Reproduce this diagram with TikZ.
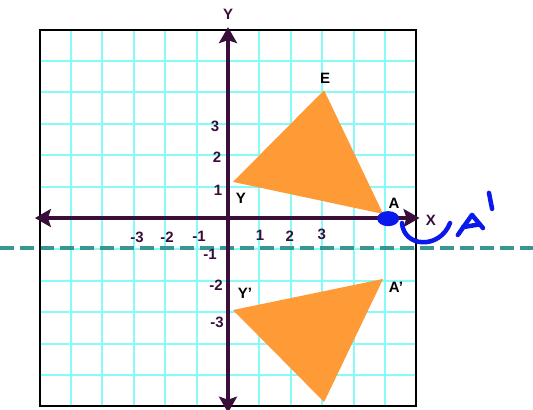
\documentclass[tikz,border=0pt]{standalone}
\usepackage{fontspec}
\setmainfont{Liberation Sans}
\usetikzlibrary{arrows.meta}
\definecolor{gridcyan}{RGB}{135,250,250}
\definecolor{axispurple}{RGB}{58,14,58}
\definecolor{shapeorange}{RGB}{255,155,55}
\definecolor{mirrorteal}{RGB}{58,150,146}
\definecolor{penblue}{RGB}{10,25,235}
\tikzset{
    tick/.style={text=axispurple,font=\fontsize{15}{15}\selectfont\bfseries,inner sep=0pt},
    letter/.style={font=\fontsize{15}{15}\selectfont\bfseries,inner sep=0pt},
    pen/.style={penblue,line width=4.5pt,line cap=round,line join=round},
}

\begin{document}
\begin{tikzpicture}[x=31.4pt,y=31.4pt,>={Stealth[length=16pt,width=18pt,inset=3pt]}]
    \useasboundingbox (-7.261,-6.083) rectangle (9.713,6.943);
    \draw[gridcyan,line width=2pt,step=1] (-6,-6) grid (6,6);
    \fill[shapeorange] (0.16,1.15) -- (3.06,4.07) -- (4.94,0.13) -- cycle;
    \fill[shapeorange] (0.16,-2.93) -- (4.94,-1.94) -- (3.06,-5.86) -- cycle;
    \draw[mirrorteal,line width=4pt,dash pattern=on 14pt off 6pt] (-7.261,-0.955) -- (9.713,-0.955);
    \draw[line width=2pt] (-6,-6) rectangle (6,6);
    \draw[axispurple,line width=4pt,<->] (-6.15,0) -- (6.1,0);
    \draw[axispurple,line width=4pt,<->] (0,-6.2) -- (0,6.08);
    % axis numbers
    \foreach \x/\y/\t [count=\i] in {-2.9/-0.6/-3,-1.94/-0.6/-2,-0.92/-0.57/-1,1.02/-0.54/1,1.97/-0.57/2,2.99/-0.51/3}{
        \node[tick] (xnum\i) at (\x,\y) {\t};
    }
    \foreach \x/\y/\t [count=\i] in {-0.41/2.93/3,-0.35/1.95/2,-0.32/0.89/1,-0.57/-1.15/-1,-0.38/-2.13/-2,-0.35/-3.31/-3}{
        \node[tick] (ynum\i) at (\x,\y) {\t};
    }
    \node[tick] (yaxis) at (0,6.49) {Y};
    \node[tick] (xaxis) at (6.46,-0.06) {X};
    \node[letter] (E) at (3.09,4.46) {E};
    \node[letter] (Y) at (0.41,0.64) {Y};
    \node[letter] (A) at (5.29,0.48) {A};
    \node[letter] (Yp) at (0.54,-2.39) {Y'};
    \node[letter] (Ap) at (5.35,-2.2) {A'};
    % pen marks
    \fill[penblue] (5.1,-0.02) ellipse (0.35 and 0.24);
    \draw[pen] (5.54,-0.16) .. controls (5.6,-0.95) and (6.75,-1.0) .. (7.07,-0.16);
    \draw[pen] (7.32,-0.54) -- (7.77,0.1) -- (8.12,-0.32);
    \draw[pen] (7.48,-0.29) -- (8.02,-0.2);
    \draw[pen] (8.31,0.8) -- (8.41,0.29);
\end{tikzpicture}
\end{document}
